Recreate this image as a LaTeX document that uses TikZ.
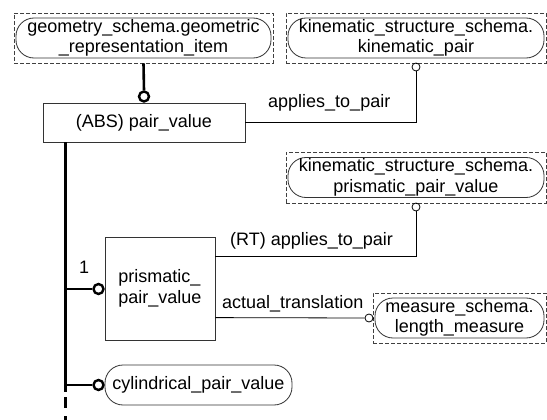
\documentclass[tikz,border=0pt]{standalone}
\usepackage{fontspec}
\setmainfont{Liberation Sans}
\usetikzlibrary{calc}
\newcommand\lblfont{\fontsize{18pt}{20.5pt}\selectfont}
\begin{document}
\begin{tikzpicture}[x=1pt,y=-1pt,
  ent/.style={draw=black!80, line width=0.8pt, rectangle, rounded corners=18pt, align=center, inner sep=0pt, font=\lblfont},
  ext/.style={draw=black!75, line width=0.8pt, dash pattern=on 4pt off 2pt, rectangle, inner sep=0pt},
  ebox/.style={draw=black!80, line width=0.8pt, rectangle, align=center, inner sep=0pt, font=\lblfont},
  thk/.style={line width=2.6pt},
  thn/.style={line width=0.8pt},
  bigc/.style={circle, draw, line width=2.4pt, fill=white, minimum size=10pt, inner sep=0pt},
  smc/.style={circle, draw, line width=0.8pt, fill=white, minimum size=8pt, inner sep=0pt},
  lbl/.style={font=\lblfont, inner sep=0pt}
]
\useasboundingbox[fill=white] (0,0) rectangle (547,420);

% external / entity nodes
\node[ext, minimum width=259pt, minimum height=50pt] (geoX) at (143.5,38) {};
\node[ent, minimum width=255pt, minimum height=40pt] (geo) at (143.5,38) {geometry\_schema.geometric\\\_representation\_item};
\node[ext, minimum width=260pt, minimum height=50pt] (kpX) at (416,38) {};
\node[ent, minimum width=256pt, minimum height=40pt] (kp) at (416,38) {kinematic\_structure\_schema.\\kinematic\_pair};
\node[ext, minimum width=260pt, minimum height=51pt] (ppvX) at (416,177.5) {};
\node[ent, minimum width=256pt, minimum height=40pt] (ppv) at (416,177.5) {kinematic\_structure\_schema.\\prismatic\_pair\_value};
\node[ext, minimum width=173pt, minimum height=50pt] (lmX) at (459.5,318) {};
\node[ent, minimum width=169pt, minimum height=40pt] (lm) at (459.5,318) {measure\_schema.\\length\_measure};

\node[ebox, minimum width=202pt, minimum height=39pt] (pv) at (144,122.5) {(ABS) pair\_value};
\node[ebox, minimum width=110pt, minimum height=103pt, align=left] (pp) at (160,288.5) {prismatic\_\\pair\_value};
\node[ent, minimum width=187pt, minimum height=40pt] (cyl) at (198.5,385) {cylindrical\_pair\_value};

% circles
\node[bigc] (c1) at (144,96.5) {};
\node[bigc] (cpp) at (98.5,289) {};
\node[bigc] (ccyl) at (98.5,385) {};
\node[smc] (ckp) at (416,67) {};
\node[smc] (cppv) at (416,207) {};
\node[smc] (clm) at (369,318) {};

% trunk coordinates
\coordinate (tTop) at ($(pv.south west)+(23,0)$);
\coordinate (tMid) at (tTop |- 0,392);
\coordinate (tDash) at (tTop |- 0,397);
\coordinate (tEnd) at (tTop |- 0,420);

% thick connectors
\draw[thk] (geoX.south) -- (c1.north);
\draw[thk] (tTop) -- (tMid);
\draw[thk, dash pattern=on 11pt off 8pt] (tDash) -- (tEnd);
\draw[thk] (tTop |- cpp) -- (cpp.west);
\draw[thk] (tTop |- ccyl) -- (ccyl.west);

% thin connectors
\draw[thn] (kpX.south) -- (ckp.north);
\draw[thn] (ckp.south) |- (pv.east);
\draw[thn] (ppvX.south) -- (cppv.north);
\draw[thn] (cppv.south) |- ($(pp.north east)+(0,20)$);
\draw[thn] ($(pp.north east)+(0,81)$) -- (clm.west);
\draw[thn] (lmX.west) -- (clm.east);

% labels
\node[lbl, anchor=base west] (l1) at (268,107) {applies\_to\_pair};
\node[lbl, anchor=base west] (l2) at (230,245) {(RT) applies\_to\_pair};
\node[lbl, anchor=base west] (l3) at (222,308) {actual\_translation};
\node[lbl, anchor=base west] (l4) at (79,273) {1};
\end{tikzpicture}
\end{document}
